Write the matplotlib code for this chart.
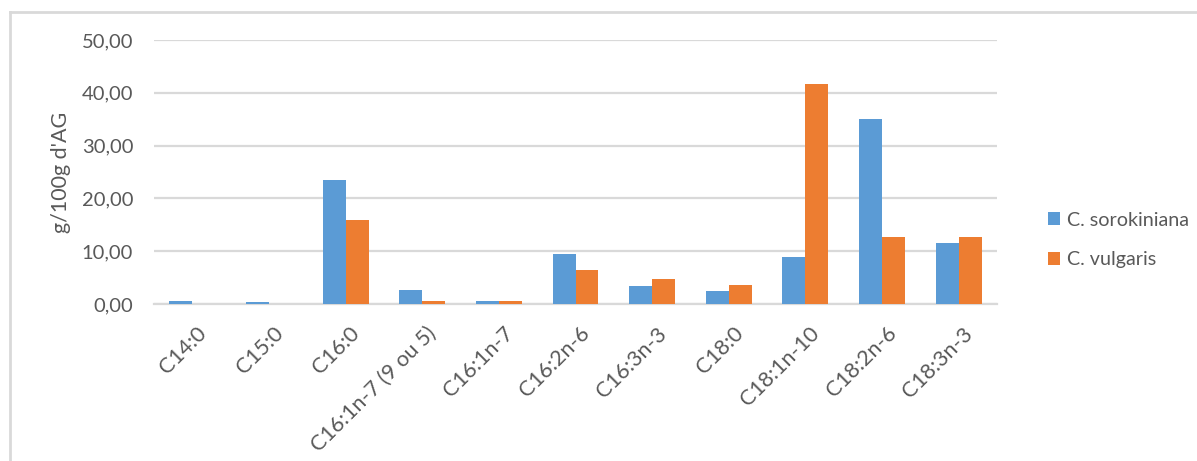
import matplotlib.pyplot as plt
import matplotlib.transforms as mtransforms
from matplotlib.lines import Line2D
import numpy as np

# fatty acid profile, g/100 g of fatty acids
acides_gras = ["C14:0", "C15:0", "C16:0", "C16:1n-7 (9 ou 5)", "C16:1n-7",
               "C16:2n-6", "C16:3n-3", "C18:0", "C18:1n-10", "C18:2n-6", "C18:3n-3"]
sorokiniana = [0.63, 0.38, 23.4, 2.70, 0.63, 9.43, 3.42, 2.47, 8.99, 35.06, 11.52]
vulgaris = [0.0, 0.0, 15.85, 0.63, 0.63, 6.39, 4.81, 3.67, 41.7, 12.66, 12.66]
y_ticks = [0, 10, 20, 30, 40, 50]

BLUE = "#5B9BD5"
ORANGE = "#ED7D31"
GRID = "#D9D9D9"
TEXT = "#595959"

plt.rcParams["font.family"] = ["Lato", "DejaVu Sans"]

fig = plt.figure(figsize=(11.97, 4.61), dpi=100)
ax = fig.add_axes([154 / 1197, 1 - 304 / 461, (997 - 154) / 1197, (304 - 40) / 461])

x = np.arange(len(acides_gras))
w = 0.3
ax.bar(x - w / 2, sorokiniana, width=w, color=BLUE, label="C. sorokiniana", zorder=3)
ax.bar(x + w / 2, vulgaris, width=w, color=ORANGE, label="C. vulgaris", zorder=3)

ax.set_xlim(-0.5, len(acides_gras) - 0.5)
ax.set_ylim(0, 50)
ax.set_yticks(y_ticks)
ax.set_yticklabels([f"{v:.2f}".replace(".", ",") for v in y_ticks])
ax.grid(axis="y", color=GRID, linewidth=1.6, zorder=0)
ax.set_axisbelow(True)

for side in ["top", "right", "left"]:
    ax.spines[side].set_visible(False)
ax.spines["bottom"].set_color(GRID)
ax.spines["bottom"].set_linewidth(1.6)

ax.tick_params(axis="y", length=0, pad=15, labelsize=14.5, labelcolor=TEXT)
ax.tick_params(axis="x", length=0, pad=14, labelsize=15.6, labelcolor=TEXT)
ax.set_xticks(x)
ax.set_xticklabels(acides_gras, rotation=45, ha="right", rotation_mode="anchor")
shift = mtransforms.ScaledTranslation(4 / 100, 0, fig.dpi_scale_trans)
for lbl in ax.get_xticklabels():
    lbl.set_transform(lbl.get_transform() + shift)

fig.text(61 / 1197, 1 - 172 / 461, "g/100g d'AG", rotation=90, ha="center", va="center",
         fontsize=15.5, color=TEXT)

leg = fig.legend(loc="center left", bbox_to_anchor=(1030 / 1197, 1 - 240 / 461),
                 frameon=False, fontsize=14.2, labelcolor=TEXT,
                 handlelength=0.6, handleheight=0.6, handletextpad=0.4, labelspacing=1.15)

# chart frame (left and top edges visible)
fig.add_artist(Line2D([10 / 1197, 10 / 1197], [0, 1 - 12 / 461], transform=fig.transFigure,
                      color=GRID, linewidth=2))
fig.add_artist(Line2D([10 / 1197, 1], [1 - 12 / 461, 1 - 12 / 461], transform=fig.transFigure,
                      color=GRID, linewidth=2))

fig.savefig("out.png", dpi=100)
